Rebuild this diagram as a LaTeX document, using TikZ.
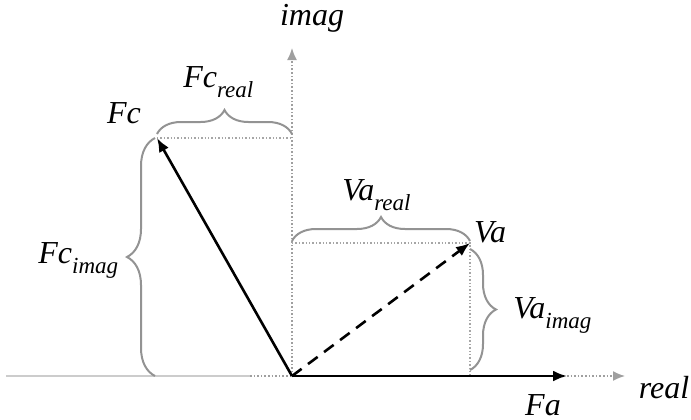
\documentclass[tikz,border=0pt]{standalone}
\usepackage{fontspec}
\setmainfont{Liberation Serif}
\usetikzlibrary{arrows.meta,decorations.pathreplacing}

\newcommand{\sublbl}[2]{#1\raisebox{-5pt}{\fontsize{11.5}{12}\selectfont #2}}

\begin{document}
\begin{tikzpicture}[x=0.5pt,y=-0.5pt,
  lbl/.style={font=\fontsize{16}{18}\selectfont\itshape, inner sep=0pt},
  vec/.style={-{Latex[length=7pt,width=5.5pt]}, line width=1.3pt},
  axis/.style={gray!75, densely dotted, line width=0.8pt},
  guide/.style={gray!70, densely dotted, line width=0.7pt},
  brc/.style={gray!85, line width=1pt, decorate, decoration={brace, amplitude=#1}}]
  \useasboundingbox (0,0) rectangle (691,419);

  % points of the diagram
  \coordinate (O) at (292,376);
  \coordinate (Fc) at (157,138);
  \coordinate (Va) at (470,243);
  \coordinate (Fa) at (567,376);
  \coordinate (ReStart) at (6,376);
  \coordinate (ReDot) at (250,376);
  \coordinate (ReEnd) at (625,376);
  \coordinate (ImEnd) at (292,48);
  \coordinate (FcRe) at (Fc -| O);
  \coordinate (VaIm) at (Va -| O);
  \coordinate (VaRe) at (Va |- O);

  % axes
  \draw[gray!40, line width=1.2pt] (ReStart) -- (ReDot);
  \draw[axis] (ReDot) -- (O);
  \draw[axis, -{Latex[length=6pt,width=5pt]}] (Fa) -- (ReEnd);
  \draw[axis, -{Latex[length=6pt,width=5pt]}] (O) -- (ImEnd);

  % projections
  \draw[guide] (Fc) -- (FcRe);
  \draw[guide] (VaIm) -- (Va) -- (VaRe);

  % braces
  \draw[brc=12pt] ([yshift=2pt]Fc) -- ([yshift=2pt]FcRe);
  \draw[brc=14pt] ([xshift=-1pt]Fc |- O) -- ([xshift=-1pt]Fc);
  \draw[brc=12pt] ([yshift=1pt]VaIm) -- ([yshift=1pt]Va);
  \draw[brc=13pt] ([yshift=-3pt]Va) -- ([yshift=3pt]VaRe);

  % phasors
  \draw[vec] (O) -- (Fc);
  \draw[vec, dash pattern=on 6pt off 4pt] (O) -- (Va);
  \draw[vec] (O) -- (Fa);

  % labels
  \node[lbl, anchor=base] (imagL) at (312,25) {imag};
  \node[lbl, anchor=base] (realL) at (664,398) {real};
  \node[lbl, anchor=base] (FcL) at (124,123) {Fc};
  \node[lbl, anchor=base] (VaL) at (490,242) {Va};
  \node[lbl, anchor=base] (FaL) at (543,415) {Fa};
  \node[lbl, anchor=base west] (FcReL) at (183,87) {\sublbl{Fc}{real}};
  \node[lbl, anchor=base west] (FcImL) at (38,263) {\sublbl{Fc}{imag}};
  \node[lbl, anchor=base west] (VaReL) at (342,200) {\sublbl{Va}{real}};
  \node[lbl, anchor=base west] (VaImL) at (513,318) {\sublbl{Va}{imag}};
\end{tikzpicture}
\end{document}
